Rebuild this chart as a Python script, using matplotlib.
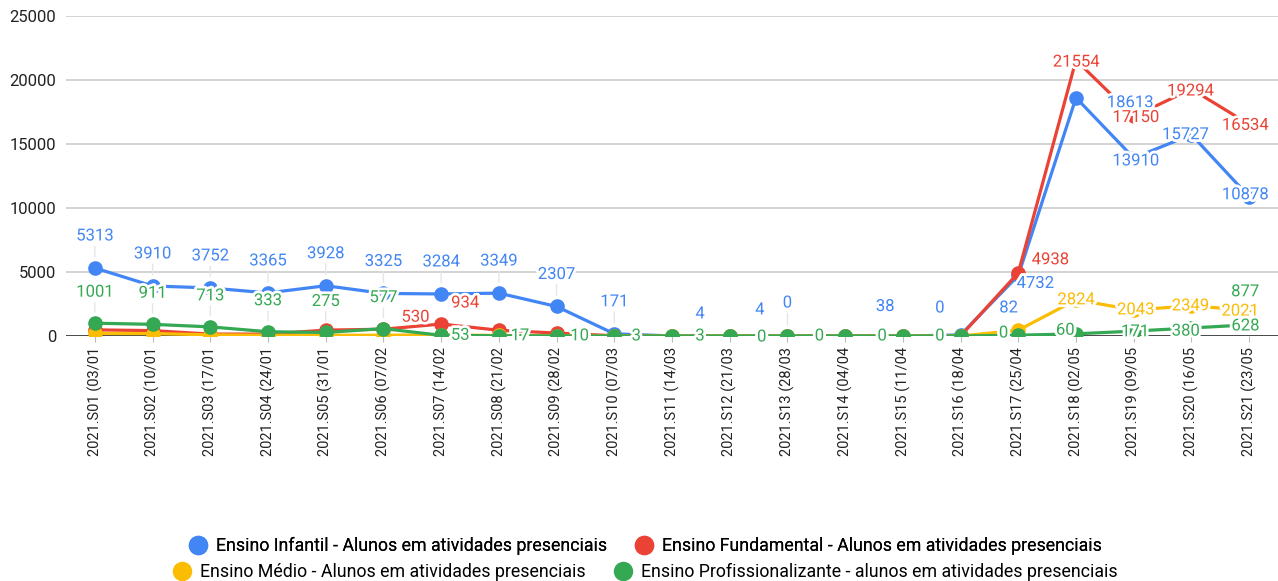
import matplotlib.pyplot as plt
import matplotlib.patheffects as pe
from matplotlib.lines import Line2D

plt.rcParams['font.family'] = ['Roboto', 'DejaVu Sans']

# semanas (rótulos cortados como no original)
dates = ['03/01', '10/01', '17/01', '24/01', '31/01', '07/02', '14/02',
         '21/02', '28/02', '07/03', '14/03', '21/03', '28/03', '04/04',
         '11/04', '18/04', '25/04', '02/05', '09/05', '16/05', '23/05']
weeks = ['2021.S%02d (%s' % (i + 1, d) for i, d in enumerate(dates)]

infantil = [5313, 3910, 3752, 3365, 3928, 3325, 3284, 3349, 2307, 171, 4,
            4, 0, 38, 0, 82, 4732, 18613, 13910, 15727, 10878]
fundamental = [480, 420, 150, 150, 460, 530, 934, 450, 230, 20, 0,
               0, 0, 0, 0, 0, 4938, 21554, 17150, 19294, 16534]
medio = [200, 190, 90, 60, 60, 60, 90, 40, 20, 0, 0,
         0, 0, 0, 0, 0, 450, 2824, 2043, 2349, 2021]
profissional = [1001, 911, 713, 333, 275, 577, 53, 17, 10, 3, 3,
                0, 0, 0, 0, 0, 60, 171, 380, 628, 877]

names = ['Ensino Infantil - Alunos em atividades presenciais',
         'Ensino Fundamental - Alunos em atividades presenciais',
         'Ensino Médio - Alunos em atividades presenciais',
         'Ensino Profissionalizante - alunos em atividades presenciais']
colors = ['#4285f4', '#ea4335', '#fbbc04', '#34a853']

# deslocamento dos rótulos (pixels); None = rótulo escondido
off_inf = [(0, 32)] * 10 + [(28, 22), (30, 26), (0, 33), (40, 29), (37, 28),
                            (48, 27), (17, -8), (54, -5), (2, -3), (-6, 0), (-4, 2)]
off_fun = [None] * 5 + [(32, 12), (24, 21)] + [None] * 9 + \
          [(32, 13), (0, -2), (2, -1), (-1, -2), (-4, -1)]
off_med = [None] * 17 + [(0, 0), (2, 0), (-1, 0), (-9, -1)]
off_pro = [(0, 31)] * 6 + [(19, 0), (21, 0), (23, 0), (22, 0), (28, 0), (32, -1),
                           (32, 0), (37, 0), (37, 0), (43, 3), (47, 5), (59, 2),
                           (52, 0), (54, 2), (-4, 33)]

fig = plt.figure(figsize=(12.78, 5.81), dpi=100)
ax = fig.add_axes([66 / 1278, 1 - 336 / 581, 1 - 66 / 1278, 320 / 581])

x = range(len(weeks))
series = [infantil, fundamental, medio, profissional]
offsets = [off_inf, off_fun, off_med, off_pro]
for k, (vals, c) in enumerate(zip(series, colors)):
    ax.plot(x, vals, color=c, lw=2.3, marker='o', ms=9.5, zorder=3 + k,
            solid_joinstyle='round')

halo = [pe.withStroke(linewidth=4, foreground='white')]
for vals, c, offs in zip(series, colors, offsets):
    for i, v in enumerate(vals):
        if offs[i] is None:
            continue
        dx, dy = offs[i]
        arrow = None
        if dy > 15 and dx == 0:
            arrow = dict(arrowstyle='-', color='#e6e6e6', lw=1, shrinkA=0, shrinkB=8)
        ax.annotate(str(v), (i, v), xytext=(dx, dy), textcoords='offset pixels',
                    ha='center', va='center', fontsize=12, color=c,
                    path_effects=halo, zorder=10, arrowprops=arrow,
                    annotation_clip=False)

ax.set_xlim(-0.5, len(weeks) - 0.5)
ax.set_ylim(0, 25000)
ax.set_yticks(range(0, 25001, 5000))
ax.tick_params(axis='y', length=0, labelsize=12, pad=7, labelcolor='#222222')
ax.set_xticks(list(x))
ax.set_xticklabels(weeks, rotation=90, fontsize=10.5, color='#222222')
ax.tick_params(axis='x', length=4, color='#bbbbbb', pad=4)
ax.grid(axis='y', color='#cccccc', lw=1.2)
ax.set_axisbelow(True)
for s in ax.spines.values():
    s.set_visible(False)
ax.axhline(0, color='#333333', lw=1.2, zorder=2)

handles = [Line2D([], [], ls='none', marker='o', ms=13, color=c) for c in colors]
leg1 = fig.legend(handles[:2], names[:2], loc='center', ncol=2,
                  bbox_to_anchor=(0.505, 1 - 546 / 581), frameon=False,
                  fontsize=12.8, handletextpad=0.5, columnspacing=1.6,
                  handlelength=1)
fig.legend(handles[2:], names[2:], loc='center', ncol=2,
           bbox_to_anchor=(0.505, 1 - 572 / 581), frameon=False,
           fontsize=12.8, handletextpad=0.5, columnspacing=1.6,
           handlelength=1)
fig.add_artist(leg1)

fig.savefig('out.png', dpi=100)
